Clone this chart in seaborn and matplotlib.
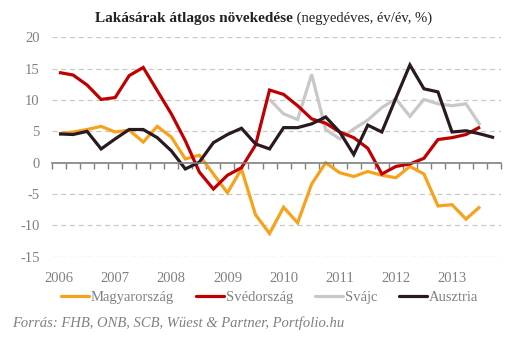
import numpy as np
import pandas as pd
import matplotlib
matplotlib.use("Agg")
import matplotlib.pyplot as plt
import seaborn as sns
from matplotlib.lines import Line2D

years = ["2006", "2007", "2008", "2009", "2010", "2011", "2012", "2013"]
quarters = [f"{y}Q{q}" for y in years for q in range(1, 5)]

hungary = [4.6, 4.9, 5.3, 5.8, 4.9, 5.2, 3.3, 5.8, 4.1, 0.6, 1.2, -1.8, -4.8, -1.0,
           -8.3, -11.3, -7.1, -9.6, -3.4, 0.0, -1.6, -2.2, -1.4, -2.0, -2.4, -0.6,
           -1.8, -6.9, -6.7, -9.0, -7.0]
sweden = [14.4, 14.0, 12.4, 10.1, 10.4, 13.9, 15.2, 11.5, 7.8, 3.5, -1.5, -4.2, -2.0,
          -0.8, 2.8, 11.6, 10.9, 9.1, 7.0, 6.3, 4.9, 4.0, 2.3, -1.8, -0.6, -0.2, 0.7,
          3.7, 4.0, 4.5, 5.7]
swiss_start = 15
swiss = [10.1, 7.8, 6.9, 14.1, 5.3, 3.8, 5.4, 6.8, 8.8, 10.2, 7.4, 10.1, 9.4, 9.1, 9.4, 6.0]
austria = [4.6, 4.5, 5.0, 2.2, 3.8, 5.3, 5.3, 4.0, 1.9, -1.0, 0.1, 3.2, 4.5, 5.5, 3.0,
           2.2, 5.6, 5.6, 6.2, 7.3, 4.9, 1.3, 6.0, 4.9, 10.3, 15.6, 11.8, 11.3, 4.9,
           5.1, 4.6, 4.0]

names = ["Magyarország", "Svédország", "Svájc", "Ausztria"]
colors = ["#F7A21B", "#C00000", "#C8C8C8", "#2A1A20"]

rows = []
for i, v in enumerate(hungary):
    rows.append((i, v, names[0]))
for i, v in enumerate(sweden):
    rows.append((i, v, names[1]))
for i, v in enumerate(swiss):
    rows.append((i + swiss_start, v, names[2]))
for i, v in enumerate(austria):
    rows.append((i, v, names[3]))
df = pd.DataFrame(rows, columns=["q", "val", "country"])

sns.set_theme(style="white")
plt.rcParams["font.family"] = ["Liberation Serif", "DejaVu Serif"]

fig = plt.figure(figsize=(5.29, 3.40), dpi=100)
ax = fig.add_axes([0.0983, 0.245, 0.849, 0.645])

order_draw = [names[2], names[0], names[1], names[3]]
pal = dict(zip(names, colors))
for n in order_draw:
    sns.lineplot(data=df[df.country == n], x="q", y="val", color=pal[n], lw=2.3,
                 ax=ax, sort=False, legend=False, solid_capstyle="butt",
                 solid_joinstyle="miter")

n_q = len(quarters)
ax.set_xlim(-0.5, n_q - 0.5)
ax.set_ylim(-15, 20)
ax.set_yticks(np.arange(-15, 21, 5))
ax.set_yticklabels([str(v) for v in range(-15, 21, 5)], color="#808080", fontsize=10.5)
ax.tick_params(axis="y", length=0, pad=9)
for yv in range(-15, 21, 5):
    if yv != 0:
        ax.axhline(yv, color="#C8C8C8", lw=0.9, ls=(0, (4, 3)), zorder=0)

for s in ["top", "right", "left"]:
    ax.spines[s].set_visible(False)
ax.spines["bottom"].set_position(("data", 0))
ax.spines["bottom"].set_color("#808080")
ax.spines["bottom"].set_linewidth(1.2)
ax.set_xticks(np.arange(n_q + 1) - 0.5)
ax.set_xticklabels([])
ax.tick_params(axis="x", direction="out", length=4, width=1.0, color="#808080", bottom=True)
ax.set_xlabel("")
ax.set_ylabel("")

sec = ax.secondary_xaxis(0)
sec.set_xticks(np.arange(0, n_q, 4))
sec.set_xticklabels(years, color="#808080", fontsize=10.5)
sec.tick_params(length=0, pad=11)
sec.spines["bottom"].set_visible(False)

t1 = "Lakásárak átlagos növekedése"
t2 = " (negyedéves, év/év, %)"
tx = fig.text(0.18, 0.945, t1, fontsize=11, fontweight="bold", color="#222222",
              ha="left", va="center")
fig.canvas.draw()
bb = tx.get_window_extent()
fig.text(bb.x1 / fig.bbox.width, 0.945, t2, fontsize=10.5, color="#222222",
         ha="left", va="center")

handles = [Line2D([0], [0], color=c, lw=2.3) for c in colors]
leg = fig.legend(handles, names, loc="center", bbox_to_anchor=(0.51, 0.125), ncol=4,
                 frameon=False, fontsize=10.5, handlelength=1.9, handletextpad=0.15,
                 columnspacing=1.5)
for t in leg.get_texts():
    t.set_color("#808080")

fig.text(0.022, 0.05, "Forrás: FHB, ONB, SCB, Wüest & Partner, Portfolio.hu",
         fontsize=10.5, style="italic", color="#808080", ha="left", va="center")

fig.savefig("out.png", dpi=100)
